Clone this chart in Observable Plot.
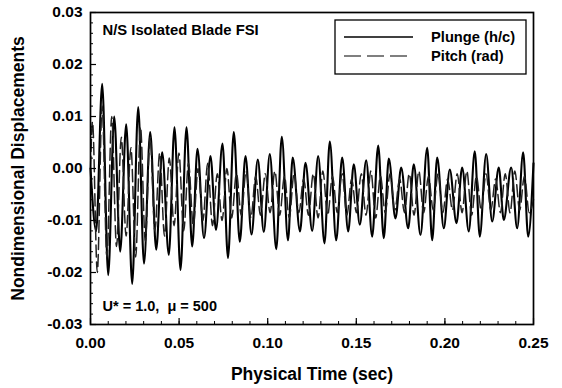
<!DOCTYPE html>
<html>
<head>
<meta charset="utf-8">
<script src="https://cdn.jsdelivr.net/npm/d3@7"></script>
<script src="https://cdn.jsdelivr.net/npm/@observablehq/plot@0.6"></script>
<style>
  html, body { margin: 0; padding: 0; background: #fff; }
  svg { display: block; }
</style>
</head>
<body>
<div id="chart"></div>
<script>
// ---- data ----
const xTickValues = [0, 0.05, 0.10, 0.15, 0.20, 0.25];
const yTickValues = [-0.03, -0.02, -0.01, 0.00, 0.01, 0.02, 0.03];
const seriesNames = ["Plunge (h/c)", "Pitch (rad)"];

// Plunge (h/c): time of each extremum (sec) and value
const plungeT = [0, 0.00322, 0.00660, 0.00999, 0.01337, 0.01676, 0.02015, 0.02353, 0.02692, 0.03019,
  0.03369, 0.03707, 0.04046, 0.04418, 0.04740, 0.05079, 0.05417, 0.05739, 0.06038, 0.06405,
  0.06771, 0.07082, 0.07449, 0.07759, 0.08086, 0.08425, 0.08747, 0.09085, 0.09441, 0.09779,
  0.10118, 0.10485, 0.10795, 0.11145, 0.11410, 0.11822, 0.12132, 0.12510, 0.12849, 0.13205,
  0.13504, 0.13865, 0.14203, 0.14542, 0.14858, 0.15197, 0.15558, 0.15896, 0.16235, 0.16551,
  0.16833, 0.17211, 0.17533, 0.17928, 0.18244, 0.18622, 0.19000, 0.19282, 0.19564, 0.19937,
  0.20275, 0.20653, 0.20975, 0.21347, 0.21686, 0.21968, 0.22329, 0.22668, 0.23040, 0.23322,
  0.23740, 0.24079, 0.24417, 0.24699, 0.25];
const plungeV = [0, -0.0120, 0.0163, -0.0205, 0.0100, -0.0160, 0.0085, -0.0222, 0.0118, -0.0183,
  0.0070, -0.0156, 0.0031, -0.0166, 0.0079, -0.0195, 0.0079, -0.0150, 0.0038, -0.0134,
  0.0024, -0.0118, 0.0048, -0.0172, 0.0070, -0.0141, 0.0024, -0.0127, 0.0017, -0.0122,
  0.0028, -0.0155, 0.0061, -0.0138, 0.0021, -0.0121, 0.0011, -0.0120, 0.0024, -0.0144,
  0.0052, -0.0138, 0.0021, -0.0121, 0.0008, -0.0108, 0.0016, -0.0131, 0.0044, -0.0134,
  0.0019, -0.0096, 0.0002, -0.0115, 0.0008, -0.0128, 0.0040, -0.0138, 0.0021, -0.0115,
  -0.0002, -0.0105, 0.0002, -0.0121, 0.0033, -0.0131, 0.0028, -0.0102, 0.0002, -0.0099,
  0.0002, -0.0115, 0.0031, -0.0131, 0.0010];

// Pitch (rad): time of each extremum (sec) and value
const pitchT = [0, 0.00113, 0.00384, 0.00655, 0.00926, 0.01197, 0.01468, 0.01738, 0.02009, 0.02280,
  0.02551, 0.02822, 0.03093, 0.03363, 0.03634, 0.03905, 0.04176, 0.04447, 0.04718, 0.04988,
  0.05259, 0.05530, 0.05801, 0.06072, 0.06343, 0.06613, 0.06884, 0.07155, 0.07426, 0.07697,
  0.07968, 0.08238, 0.08509, 0.08780, 0.09051, 0.09322, 0.09593, 0.09863, 0.10134, 0.10405,
  0.10676, 0.10947, 0.11218, 0.11488, 0.11759, 0.12030, 0.12301, 0.12572, 0.12843, 0.13113,
  0.13384, 0.13655, 0.13926, 0.14197, 0.14468, 0.14738, 0.15009, 0.15280, 0.15551, 0.15822,
  0.16093, 0.16363, 0.16634, 0.16905, 0.17176, 0.17447, 0.17718, 0.17988, 0.18259, 0.18530,
  0.18801, 0.19072, 0.19343, 0.19613, 0.19884, 0.20155, 0.20426, 0.20697, 0.20968, 0.21238,
  0.21509, 0.21780, 0.22051, 0.22322, 0.22593, 0.22863, 0.23134, 0.23405, 0.23676, 0.23947,
  0.24218, 0.24488, 0.24759, 0.25];
const pitchV = [0, 0.0090, -0.0200, 0.0120, -0.0170, 0.0100, -0.0150, 0.0060, -0.0130, 0.0040,
  -0.0170, 0.0080, -0.0140, 0.0060, -0.0120, 0.0030, -0.0130, 0.0020, -0.0110, 0.0030,
  -0.0120, 0.0010, -0.0110, 0.0000, -0.0100, 0.0010, -0.0110, -0.0010, -0.0100, 0.0000,
  -0.0095, -0.0010, -0.0090, -0.0005, -0.0095, -0.0015, -0.0090, -0.0010, -0.0085, -0.0005,
  -0.0090, -0.0015, -0.0095, -0.0010, -0.0085, -0.0020, -0.0090, -0.0010, -0.0095, -0.0005,
  -0.0090, -0.0015, -0.0085, -0.0010, -0.0090, -0.0020, -0.0085, -0.0010, -0.0090, -0.0005,
  -0.0095, -0.0015, -0.0085, -0.0010, -0.0080, -0.0020, -0.0085, -0.0010, -0.0090, -0.0005,
  -0.0085, -0.0015, -0.0080, -0.0010, -0.0085, -0.0020, -0.0080, -0.0010, -0.0085, -0.0005,
  -0.0090, -0.0015, -0.0080, -0.0010, -0.0080, -0.0020, -0.0085, -0.0010, -0.0085, -0.0005,
  -0.0080, -0.0015, -0.0085, -0.0060];

// ---- build tables ----
const plunge = plungeT.map((t, i) => ({t, v: plungeV[i]}));
const pitch = pitchT.map((t, i) => ({t, v: pitchV[i]}));
const xMinor = d3.range(0, 0.2501, 0.01);
const yMinor = d3.range(-0.03, 0.03001, 0.002);

const FONT = "'Liberation Sans', Arial, Helvetica, sans-serif";
const DASH = "12,5";

const chart = Plot.plot({
  width: 562,
  height: 388,
  marginLeft: 90,
  marginRight: 29,
  marginTop: 12,
  marginBottom: 64,
  x: {domain: [0, 0.25]},
  y: {domain: [-0.03, 0.03]},
  style: {fontFamily: FONT, fontWeight: "bold", color: "black", background: "white", overflow: "visible"},
  marks: [
    Plot.line(plunge, {x: "t", y: "v", stroke: "black", strokeWidth: 2.1, curve: "monotone-x"}),
    Plot.line(pitch, {x: "t", y: "v", stroke: "#222", strokeWidth: 1.5, strokeDasharray: DASH, curve: "monotone-x"}),
    // inward ticks
    Plot.ruleX(xMinor, {y1: -0.03, y2: -0.03, insetTop: -3, stroke: "black", strokeWidth: 1}),
    Plot.ruleX(xTickValues, {y1: -0.03, y2: -0.03, insetTop: -6, stroke: "black", strokeWidth: 1.2}),
    Plot.ruleY(yMinor, {x1: 0, x2: 0, insetRight: -3, stroke: "black", strokeWidth: 1}),
    Plot.ruleY(yTickValues, {x1: 0, x2: 0, insetRight: -6, stroke: "black", strokeWidth: 1.2}),
    Plot.frame({stroke: "black", strokeWidth: 1.7}),
    Plot.axisX(xTickValues, {tickSize: 0, tickPadding: 12, tickFormat: d => d.toFixed(2), fontSize: 15.5, fontWeight: "bold", label: null}),
    Plot.axisY(yTickValues, {tickSize: 0, tickPadding: 8, tickFormat: d => d.toFixed(2).replace("-0.00", "0.00"), fontSize: 15.5, fontWeight: "bold", label: null}),
    Plot.text(["Physical Time (sec)"], {frameAnchor: "bottom", dy: 55, fontSize: 17.5, fontWeight: "bold"}),
    Plot.text(["Nondimensional Displacements"], {frameAnchor: "left", textAnchor: "middle", lineAnchor: "middle", dx: -72, rotate: -90, fontSize: 17.5, fontWeight: "bold"}),
    Plot.text(["N/S Isolated Blade FSI"], {frameAnchor: "top-left", dx: 12, dy: 12, fontSize: 14.8, fontWeight: "bold"}),
    Plot.text(["U* = 1.0,  \u03bc = 500"], {frameAnchor: "bottom-left", dx: 12, dy: -14, fontSize: 14.5, fontWeight: "bold"})
  ]
});
document.getElementById("chart").appendChild(chart);

// legend box inside the plot (top right)
const svg = d3.select(chart);
const lg = svg.append("g").attr("font-family", FONT).attr("font-weight", "bold")
  .attr("font-size", 14.7).attr("text-anchor", "start");
lg.append("rect").attr("x", 335).attr("y", 20).attr("width", 191).attr("height", 54)
  .attr("fill", "white").attr("stroke", "black").attr("stroke-width", 1.3);
lg.append("line").attr("x1", 344).attr("x2", 413).attr("y1", 37).attr("y2", 37)
  .attr("stroke", "black").attr("stroke-width", 1.4);
lg.append("line").attr("x1", 344).attr("x2", 408).attr("y1", 56).attr("y2", 56)
  .attr("stroke", "black").attr("stroke-width", 1.2).attr("stroke-dasharray", "17,6");
lg.append("text").attr("x", 431).attr("y", 37).attr("dy", "0.35em").attr("text-anchor", "start").text(seriesNames[0]);
lg.append("text").attr("x", 431).attr("y", 56).attr("dy", "0.35em").attr("text-anchor", "start").text(seriesNames[1]);
</script>
</body>
</html>
